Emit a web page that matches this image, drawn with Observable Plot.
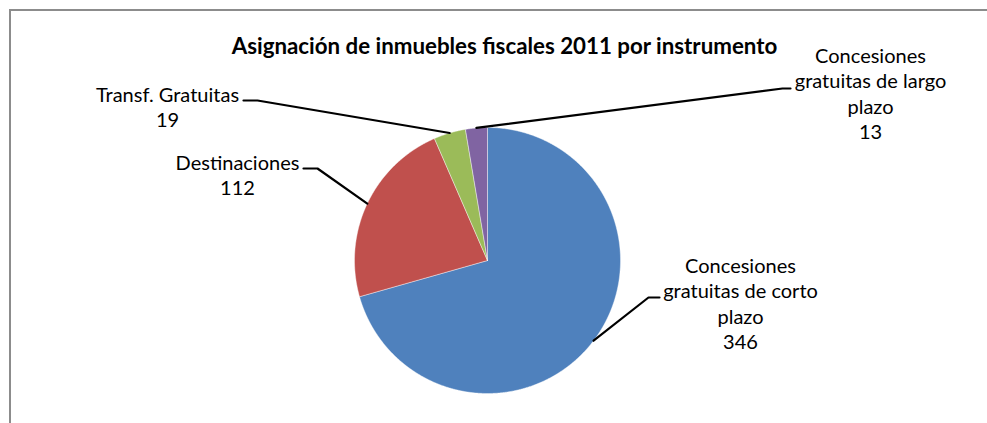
<!DOCTYPE html>
<html>
<head>
<meta charset="utf-8">
<script src="https://cdn.jsdelivr.net/npm/d3@7"></script>
<script src="https://cdn.jsdelivr.net/npm/@observablehq/plot@0.6"></script>
<style>
  html, body { margin: 0; padding: 0; background: #fff; }
  #wrap { position: relative; width: 987px; height: 423px; overflow: hidden; }
  #frame { position: absolute; left: 9px; top: 9px; width: 980px; height: 430px;
           border-top: 2px solid #8c8c8c; border-left: 2px solid #8c8c8c; box-sizing: border-box; }
  #chart { position: absolute; left: 0; top: 0; }
</style>
</head>
<body>
<div id="wrap"><div id="frame"></div><div id="chart"></div></div>
<script>
// ---- data ----
const title = "Asignación de inmuebles fiscales 2011 por instrumento";
const categories = ["Concesiones gratuitas de corto plazo", "Destinaciones", "Transf. Gratuitas", "Concesiones gratuitas de largo plazo"];
const values = [346, 112, 19, 13];
const labelLines = [
  ["Concesiones", "gratuitas de corto", "plazo"],
  ["Destinaciones"],
  ["Transf. Gratuitas"],
  ["Concesiones", "gratuitas de largo", "plazo"]
];
const colors = ["#4F81BD", "#C0504D", "#9BBB59", "#8064A2"];

// ---- layout (pixels) ----
const W = 987, H = 423;
const pie = {cx: 487, cy: 260, r: 133};
const lineStep = 25.5;
const labelLayout = [
  {x: 740, y: 272, end: [659, 297], knee: [648, 297]},
  {x: 237, y: 169, end: [303, 168], knee: [317, 168]},
  {x: 167, y: 101, end: [243, 100], knee: [257, 100]},
  {x: 870, y: 62,  end: [790, 88],  knee: [782, 88]}
];
const titlePos = {x: 504, y: 53};

// ---- build geometry via d3.pie ----
const arcs = d3.pie().sort(null).value(d => d)(values);
const slicePts = [];
arcs.forEach((a, i) => {
  const n = Math.max(8, Math.ceil((a.endAngle - a.startAngle) / 0.005));
  slicePts.push({cat: categories[i], x: pie.cx, y: pie.cy});
  for (let k = 0; k <= n; k++) {
    const t = a.startAngle + (a.endAngle - a.startAngle) * k / n;
    slicePts.push({cat: categories[i], x: pie.cx + pie.r * Math.sin(t), y: pie.cy - pie.r * Math.cos(t)});
  }
  slicePts.push({cat: categories[i], x: pie.cx, y: pie.cy});
});

const leaderPts = [];
arcs.forEach((a, i) => {
  const m = (a.startAngle + a.endAngle) / 2;
  const L = labelLayout[i];
  leaderPts.push({cat: categories[i], x: L.end[0], y: L.end[1]});
  leaderPts.push({cat: categories[i], x: L.knee[0], y: L.knee[1]});
  leaderPts.push({cat: categories[i], x: pie.cx + pie.r * Math.sin(m), y: pie.cy - pie.r * Math.cos(m)});
});

const textRows = [];
categories.forEach((c, i) => {
  const lines = labelLines[i].concat([String(values[i])]);
  lines.forEach((t, k) => textRows.push({x: labelLayout[i].x, y: labelLayout[i].y + k * lineStep, text: t}));
});

const chart = Plot.plot({
  width: W, height: H,
  margin: 0,
  x: {domain: [0, W], range: [0, W], axis: null},
  y: {domain: [0, H], range: [0, H], axis: null},
  color: {domain: categories, range: colors},
  style: {fontFamily: "Lato, 'Open Sans', sans-serif", background: "transparent"},
  marks: [
    Plot.line(slicePts, {x: "x", y: "y", z: "cat", fill: "cat", stroke: "#ffffff", strokeWidth: 0.6, strokeOpacity: 0.7, curve: "linear"}),
    Plot.line(leaderPts, {x: "x", y: "y", z: "cat", stroke: "#000", strokeWidth: 2.2, curve: "linear"}),
    Plot.text(textRows, {x: "x", y: "y", text: "text", lineAnchor: "bottom", textAnchor: "middle", fontSize: 20, fill: "#000"}),
    Plot.text([title], {x: () => titlePos.x, y: () => titlePos.y, text: d => d, lineAnchor: "bottom", textAnchor: "middle", fontSize: 22.3, fontWeight: "bold", fill: "#000"})
  ]
});
document.getElementById("chart").appendChild(chart);
</script>
</body>
</html>
